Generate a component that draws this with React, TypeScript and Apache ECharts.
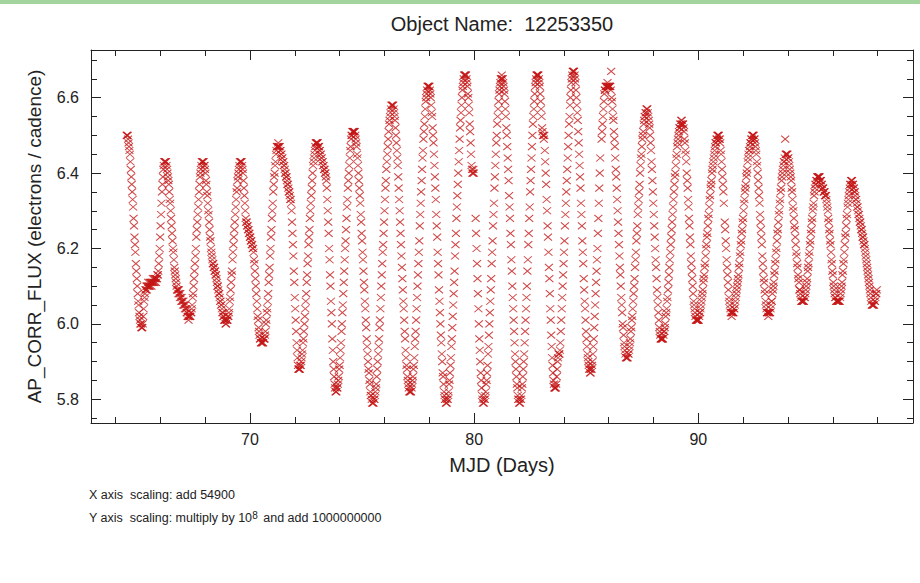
import React, { useEffect, useRef } from 'react';
import * as echarts from 'echarts';

// Kepler long-cadence light curve (one value every 0.02043 d).
// null = missing cadence (visible gaps in the reference).
const START_DAY = 64.5;
const CADENCE_DAYS = 0.02043;

const fluxB01 = [6.50,6.50,6.50,6.49,6.48,6.47,6.46,6.45,6.43,6.41,6.39,6.37,6.35,6.33,6.31,6.28,6.26,6.23,6.21,6.19,6.16,6.14,6.12,6.10,6.08,6.06,6.05,6.03,6.02,6.01,6.00,6.00,5.99];
const fluxB02 = [5.99,5.99,6.00,6.02,6.04,6.06,6.07];
const fluxB03 = [6.08,6.09,6.09,6.10,6.09,6.10,6.10,6.11,6.10,6.10,6.11,6.10,6.11,6.11,6.10,6.11,6.11,6.12,6.11,6.11,6.12,6.11,6.12,6.12,6.11,6.12,6.12,6.13,6.13];
const fluxB04 = [6.14,6.16,6.18,6.20,6.23,6.26,6.29,6.32,6.35,6.37,6.39,6.41,6.42,6.43,6.43];
const fluxB05 = [6.43,6.43,6.43,6.42,6.41,6.40,6.39,6.38,6.37,6.35,6.33,6.32,6.30,6.28,6.26,6.24,6.22,6.20,6.19,6.17,6.15,6.14,6.13,6.12,6.11,6.10,6.09,6.09];
const fluxB06 = [6.09,6.08,6.09,6.08,6.07,6.08,6.07,6.06,6.07,6.06,6.06,6.05,6.06,6.05,6.05,6.04,6.05,6.04,6.04];
const fluxB07 = [6.03,6.03,6.02,6.02,6.01,6.02,6.02];
const fluxB08 = [6.02,6.02,6.03,6.03,6.04,6.05,6.07,6.08,6.10,6.12,6.14,6.16,6.18,6.20,6.23,6.25,6.27,6.29,6.31,6.33,6.35,6.37,6.39,6.40,6.41,6.42,6.43,6.43];
const fluxB09 = [6.43,6.43,6.43,6.42,6.42,6.41,6.40,6.38,6.37,6.35,6.34,6.32,6.30,6.29,6.27,6.25,6.23,6.22,6.20,6.19,6.18];
const fluxB10 = [6.17,6.16,6.16,6.15,6.15,6.14,6.14,6.13,6.13,6.12,6.11];
const fluxB11 = [6.10,6.10,6.09,6.08,6.08,6.07,6.06,6.06,6.05,6.05,6.04,6.03,6.03,6.02,6.02,6.01,6.01,6.01,6.00,6.00];
const fluxB12 = [6.01,6.01,6.01,6.02,6.02,6.03,6.04,6.06,6.07,6.09,6.11,6.13,6.14,6.17,6.19,6.21,6.23,6.25,6.27,6.29,6.31,6.33,6.35,6.36,6.38,6.39,6.40,6.41,6.42,6.43,6.43];
const fluxB13 = [6.43,6.43,6.43,6.42,6.41,6.40,6.38,6.36,6.34,6.32,6.30,6.28];
const fluxB14 = [6.27,6.27,6.26,6.26,6.25,6.25,6.24,6.24,6.23,6.23,6.22,6.22,6.21,6.21,6.20,6.20];
const fluxB15 = [6.19,6.17,6.16,6.14,6.12,6.10,6.08,6.06,6.04,6.02,6.01,5.99,5.98,5.97,5.96,5.96,5.95,5.95,5.95,5.95,5.95];
const fluxB16 = [5.95,5.96,5.96,5.96,5.97,5.98,6.00,6.01,6.03,6.04,6.06,6.08,6.11,6.13,6.15,6.18,6.20,6.23,6.25,6.28,6.30,6.32,6.35,6.37,6.39,6.40,6.42,6.43,6.45,6.46,6.47,6.47,6.47];
const fluxB17 = [6.48,6.47,6.47,6.47,6.46,6.46,6.45,6.45,6.44,6.44,6.43,6.43,6.42,6.42,6.41,6.40,6.40,6.39,6.39,6.38,6.37,6.37,6.36,6.35,6.35,6.34,6.33,6.33,6.32];
const fluxB18 = [6.30,6.27,6.24,6.21,6.18,6.14,6.11,6.07,6.04,6.01,5.98,5.95,5.93,5.91,5.89,5.88,5.88];
const fluxB19 = [5.88,5.88,5.89,5.89,5.90,5.91,5.92,5.93,5.95,5.96,5.98,6.00,6.02,6.04,6.06,6.08,6.11,6.13,6.16,6.18,6.21,6.23,6.25,6.28,6.30,6.32,6.34,6.36,6.38,6.40,6.42,6.43,6.44,6.45,6.46,6.47,6.48,6.48];
const fluxB20 = [6.48,6.48,6.48,6.47,6.47,6.47,6.46,6.46,6.45,6.45,6.44,6.44,6.43,6.43,6.42,6.42,6.41,6.41,6.40,6.40,6.39,6.38];
const fluxB21 = [6.36,6.33,6.30,6.27,6.24,6.20,6.17,6.13,6.10,6.06,6.03,6.00,5.96,5.93,5.90,5.88,5.86,5.84,5.83,5.82];
const fluxB22 = [5.82,5.82,5.83,5.83,5.84,5.85,5.86,5.88,5.89,5.91,5.93,5.95,5.98,6.00,6.03,6.05,6.08,6.11,6.14,6.17,6.20,6.22,6.25,6.28,6.31,6.33,6.36,6.38,6.40,6.42,6.44,6.46,6.47,6.49,6.50,6.50,6.51,6.51];
const fluxB23 = [6.51,6.51,6.51,6.51,6.50,6.49,6.48,6.47,6.45,6.44,6.42,6.40,6.38,6.36,6.34,6.32,6.29,6.27,6.24,6.22,6.19,6.17,6.14,6.11,6.09,6.06,6.04,6.01,5.99,5.96,5.94,5.92,5.90,5.88,5.87,5.85,5.84,5.82,5.81,5.81,5.80,5.79,5.79];
const fluxB24 = [5.79,5.79,5.80,5.80,5.81,5.82,5.83,5.84,5.86,5.88,5.90,5.92,5.94,5.96,5.99,6.01,6.04,6.07,6.10,6.13,6.16,6.19,6.21,6.24,6.27,6.30,6.33,6.36,6.38,6.41,6.43,6.45,6.47,6.49,6.51,6.53,6.54,6.55,6.56,6.57,6.58,6.58];
const fluxB25 = [6.58,6.58,6.58,6.57,6.56,6.55,6.54,6.52,6.50,6.48,6.46,6.44,6.42,6.39,6.36,6.33,6.30,6.27,6.24,6.21,6.18,6.15,6.12,6.09,6.06,6.04,6.01,5.98,5.96,5.93,5.91,5.89,5.88,5.86,5.85,5.84,5.83,5.82,5.82];
const fluxB26 = [5.82,5.82,5.82,5.83,5.84,5.85,5.86,5.88,5.89,5.91,5.94,5.96,5.98,6.01,6.04,6.07,6.10,6.13,6.16,6.19,6.22,6.26,6.29,6.32,6.35,6.38,6.41,6.44,6.46,6.49,6.51,6.53,6.55,6.57,6.59,6.60,6.61,6.62,6.63,6.63];
const fluxB27 = [6.63,6.63,6.63,6.62,6.61,6.60,6.58,6.56,6.55,6.52,6.50,6.48,6.45,6.42,6.39,6.36,6.33,6.29,6.26,6.23,6.19,6.16,6.13,6.09,6.06,6.03,6.00,5.97,5.95,5.92,5.90,5.87,5.86,5.84,5.82,5.81,5.80,5.80,5.79];
const fluxB28 = [5.79,5.79,5.80,5.80,5.81,5.82,5.84,5.85,5.87,5.89,5.91,5.94,5.96,5.99,6.02,6.05,6.08,6.11,6.14,6.18,6.21,6.24,6.28,6.31,6.34,6.37,6.40,6.43,6.46,6.49,6.52,6.54,6.56,6.58,6.60,6.62,6.63,6.64,6.65,6.66,6.66];
const fluxB29 = [6.66,6.66,6.66,6.65,6.64,6.63,6.61,6.60,6.58,6.56,6.53,6.51,6.48,6.45,6.42,6.41,6.40,6.40,6.41,6.40,null,null,null,6.28,6.24,6.20,6.16,6.12,6.08,6.04,6.00,5.96,5.93,5.90,5.87,5.85,5.83,5.81,5.80,5.79];
const fluxB30 = [5.79,5.79,5.80,5.80,5.81,5.82,5.84,5.85,5.87,5.89,5.92,5.94,5.97,6.00,6.03,6.06,6.09,6.12,6.16,6.19,6.22,6.26,6.29,6.32,6.36,6.39,6.42,6.45,6.48,6.50,6.53,6.55,6.57,6.59,6.61,6.62,6.63,6.64,6.65,6.65];
const fluxB31 = [6.66,6.65,6.65,6.64,6.63,6.62,6.61,6.59,6.57,6.55,6.52,6.50,6.47,6.44,6.41,6.38,6.34,6.31,6.28,6.24,6.21,6.17,6.14,6.10,6.07,6.04,6.01,5.98,5.95,5.92,5.90,5.88,5.86,5.84,5.83,5.81,5.80,5.80,5.79];
const fluxB32 = [5.79,5.79,5.80,5.80,5.81,5.83,5.84,5.86,5.88,5.90,5.92,5.95,5.98,6.01,6.04,6.07,6.10,6.14,6.17,6.21,6.24,6.28,6.31,6.35,6.38,6.41,6.44,6.47,6.50,6.53,6.55,6.57,6.59,6.61,6.63,6.64,6.65,6.66,6.66];
const fluxB33 = [6.66,6.66,6.66,6.65,6.64,6.63,6.61,6.59,6.57,6.55,6.52,6.51,6.50,6.50,6.49,6.50,6.46,6.43,6.40,6.37,6.33,6.30,6.26,6.23,6.19,6.15,6.12,6.08,6.04,6.01,5.97,5.94,5.91,5.89,5.87,5.85,5.84,5.83];
const fluxB34 = [5.83,5.83,5.83,5.84,5.86,5.88,5.90,5.91,5.92,5.92,5.92,5.93,5.95,5.98,6.01,6.04,6.07,6.10,6.13,6.16,6.19,6.22,6.26,6.29,6.32,6.35,6.38,6.41,6.44,6.47,6.50,6.53,6.55,6.58,6.60,6.62,6.64,6.65,6.66,6.67];
const fluxB35 = [6.67,6.67,6.67,6.66,6.65,6.64,6.62,6.60,6.58,6.56,6.54,6.51,6.48,6.45,6.42,6.39,6.36,6.32,6.29,6.26,6.22,6.19,6.16,6.12,6.09,6.06,6.04,6.01,5.98,5.96,5.94,5.92,5.91,5.90,5.89,5.88,5.88];
const fluxB36 = [5.87,5.87,5.88,5.88,5.89,5.90,5.92,5.94,5.96,5.99,6.02,6.05,6.08,6.11,6.14,6.17,6.20,6.24,6.28,6.32,6.36,6.40,6.44,null,null,6.49,6.51,6.53,6.55,6.57,6.59,6.61,6.62,6.62,6.63,6.63,6.63,6.63,6.64,6.63,6.63,6.63];
const fluxB37 = [6.63,6.63,6.63,6.62,6.67,6.60,6.59,6.57,6.55,6.54,6.51,6.49,6.47,6.44,6.41,6.39,6.36,6.33,6.30,6.27,6.24,6.21,6.18,6.15,6.13,6.10,6.07,6.05,6.03,6.00,5.99,5.97,5.95,5.94,5.93,5.92,5.91,5.91];
const fluxB38 = [5.91,5.91,5.91,5.92,5.92,5.93,5.94,5.95,5.96,5.98,5.99,6.01,6.02,6.04,6.06,6.08,6.10,6.12,6.15,6.17,6.19,6.22,6.24,6.26,6.29,6.31,6.33,6.35,6.37,6.40,6.42,6.44,6.45,6.47,6.49,6.50,6.51,6.53,6.54,6.55,6.55,6.56,6.56,6.57];
const fluxB39 = [6.57,6.57,6.56,6.55,6.54,6.53,6.52,6.50,6.48,6.46,6.43,6.41,6.38,6.35,6.32,6.29,6.26,6.23,6.20,6.17,6.15,6.12,6.09,6.07,6.05,6.03,6.01,5.99,5.98,5.97,5.96,5.96];
const fluxB40 = [5.96,5.96,5.96,5.96,5.97,5.98,5.98,5.99,6.00,6.02,6.03,6.04,6.06,6.07,6.09,6.11,6.13,6.15,6.17,6.19,6.21,6.23,6.25,6.27,6.29,6.31,6.33,6.35,6.37,6.39,6.40,6.42,6.44,6.45,6.47,6.48,6.49,6.50,6.51,6.52,6.52,6.53,6.53,6.54];
const fluxB41 = [6.54,6.53,6.53,6.53,6.52,6.51,6.49,6.48,6.46,6.45,6.43,6.40,6.38,6.36,6.33,6.31,6.28,6.26,6.23,6.21,6.18,6.16,6.14,6.12,6.10,6.08,6.06,6.05,6.04,6.03,6.02,6.01,6.01];
const fluxB42 = [6.01,6.01,6.01,6.01,6.01,6.02,6.03,6.03,6.04,6.05,6.06,6.07,6.08,6.09,6.11,6.12,6.13,6.15,6.16,6.18,6.20,6.21,6.23,6.24,6.26,6.28,6.29,6.31,6.33,6.34,6.36,6.37,6.38,6.40,6.41,6.42,6.43,6.44,6.45,6.46,6.47,6.48,6.48,6.49,6.49,6.50,6.50];
const fluxB43 = [6.50,6.50,6.49,6.49,6.48,6.46,6.45,6.43,6.41,6.39,6.37,6.35,6.32,null,6.27,6.25,6.22,6.20,6.17,6.15,6.13,6.11,6.09,6.07,6.06,6.05,6.04,6.03,6.03];
const fluxB44 = [6.02,6.03,6.03,6.03,6.03,6.04,6.04,6.05,6.06,6.07,6.08,6.09,6.10,6.11,6.12,6.13,6.15,6.16,6.18,6.19,6.21,6.22,6.24,6.25,6.27,6.28,6.30,6.32,6.33,6.35,6.36,6.37,6.39,6.40,6.41,6.43,6.44,6.45,6.46,6.46,6.47,6.48,6.48,6.49,6.49,6.50,6.50];
const fluxB45 = [6.50,6.50,6.49,6.49,6.48,6.47,6.46,6.45,6.43,6.42,6.40,6.38,6.36,6.34,6.32,6.29,6.27,6.25,6.23,6.21,6.18,6.16,6.14,6.12,6.11,6.09,6.08,6.06,6.05,6.04,6.03,6.03,6.03];
const fluxB46 = [6.02,6.03,6.03,6.03,6.03,6.04,6.05,6.06,6.06,6.08,6.09,6.10,6.11,6.13,6.14,6.16,6.17,6.19,6.20,6.22,6.24,6.25,6.27,6.29,6.30,6.32,6.33,6.35,6.36,6.38,6.39,6.40,6.41,6.42,6.43,6.43,6.44,6.49,6.45,6.45];
const fluxB47 = [6.45,6.45,6.45,6.44,6.44,6.43,6.42,6.41,6.40,6.39,6.38,6.36,6.35,6.33,6.31,6.30,6.28,6.26,6.25,6.23,6.21,6.19,6.18,6.16,6.15,6.13,6.12,6.11,6.09,6.09,6.08,6.07,6.06,6.06,6.06];
const fluxB48 = [6.06,6.06,6.06,6.06,6.07,6.07,6.08,6.09,6.10,6.11,6.12,6.14,6.15,6.16,6.18,6.19,6.21,6.22,6.24,6.25,6.27,6.28,6.30,6.31,6.32,6.34,6.35,6.36,6.37,6.37,6.38,6.38,6.39,6.39];
const fluxB49 = [6.39,6.39,6.39,6.39,6.38,6.38,6.38,6.37,6.37,6.36,6.36,6.36,6.35,6.35,6.35,6.34,6.34,6.34,6.33,6.32,6.31,6.30,6.28,6.27,6.25,6.24,6.22,6.21,6.19,6.17,6.16,6.14,6.13,6.11,6.10,6.09,6.08,6.07,6.07,6.06,6.06,6.06,6.06,6.06];
const fluxB50 = [6.06,6.06,6.06,6.06,6.07,6.08,6.09,6.10,6.11,6.13,6.14,6.16,6.17,6.19,6.21,6.23,6.24,6.26,6.28,6.29,6.31,6.32,6.33,6.34,6.35,6.36,6.37,6.37,6.38];
const fluxB51 = [6.38,6.38,6.37,6.37,6.36,6.36,6.35,6.35,6.34,6.33,6.33,6.32,6.31,6.31,6.30,6.29,6.29,6.28,6.27,6.27,6.26,6.25,6.25,6.24,6.23,6.23,6.22,6.21,6.21,6.20,6.19,6.18,6.17,6.16,6.15,6.14,6.13,6.12,6.11,6.10,6.09,6.08,6.07,6.06,6.05,6.05,6.05];
const fluxB52 = [6.05,6.05,6.05,6.06,6.06,6.07,6.08,6.08,6.09];

const fluxRuns: (number | null)[][] = [
  fluxB01, fluxB02, fluxB03, fluxB04, fluxB05, fluxB06, fluxB07, fluxB08, fluxB09, fluxB10,
  fluxB11, fluxB12, fluxB13, fluxB14, fluxB15, fluxB16, fluxB17, fluxB18, fluxB19, fluxB20,
  fluxB21, fluxB22, fluxB23, fluxB24, fluxB25, fluxB26, fluxB27, fluxB28, fluxB29, fluxB30,
  fluxB31, fluxB32, fluxB33, fluxB34, fluxB35, fluxB36, fluxB37, fluxB38, fluxB39, fluxB40,
  fluxB41, fluxB42, fluxB43, fluxB44, fluxB45, fluxB46, fluxB47, fluxB48, fluxB49, fluxB50,
  fluxB51, fluxB52,
];

const xMajorTicks = [70, 80, 90];
const xMinorTicks = [64, 66, 68, 72, 74, 76, 78, 82, 84, 86, 88, 92, 94, 96, 98];
const yMajorTicks = [5.8, 6.0, 6.2, 6.4, 6.6];
const yMinorTicks = [5.75, 5.85, 5.9, 5.95, 6.05, 6.1, 6.15, 6.25, 6.3, 6.35, 6.45, 6.5, 6.55, 6.65, 6.7];

const X_MIN = 62.907;
const X_MAX = 99.58;
const Y_MIN = 5.737;
const Y_MAX = 6.7265;

const FONT = '"Liberation Sans", Arial, Helvetica, sans-serif';
const INK = '#222';

function buildPoints(): number[][] {
  const pts: number[][] = [];
  let i = 0;
  for (const run of fluxRuns) {
    for (const v of run) {
      if (v !== null) pts.push([START_DAY + i * CADENCE_DAYS, v]);
      i++;
    }
  }
  return pts;
}

function xAxisDef(position: 'bottom' | 'top', major: boolean, main: boolean): any {
  return {
    type: 'value',
    position,
    min: X_MIN,
    max: X_MAX,
    gridIndex: 0,
    axisLine: { show: major, onZero: false, lineStyle: { color: INK, width: 1 } },
    axisTick: {
      show: true,
      inside: true,
      length: major ? 10 : 6,
      customValues: major ? xMajorTicks : xMinorTicks,
      lineStyle: { color: INK, width: 1 },
    },
    axisLabel: main
      ? { show: true, customValues: xMajorTicks, margin: 8, color: INK, fontSize: 16, fontFamily: FONT, formatter: (v: number) => String(Math.round(v)) }
      : { show: false },
    splitLine: { show: false },
    name: main ? 'MJD (Days)' : '',
    nameLocation: 'middle',
    nameGap: 32,
    nameTextStyle: { color: INK, fontSize: 20, fontFamily: FONT },
  };
}

function yAxisDef(position: 'left' | 'right', major: boolean, main: boolean): any {
  return {
    type: 'value',
    position,
    min: Y_MIN,
    max: Y_MAX,
    gridIndex: 0,
    axisLine: { show: major, onZero: false, lineStyle: { color: INK, width: 1 } },
    axisTick: {
      show: true,
      inside: true,
      length: major ? 10 : 6,
      customValues: major ? yMajorTicks : yMinorTicks,
      lineStyle: { color: INK, width: 1 },
    },
    axisLabel: main
      ? { show: true, customValues: yMajorTicks, margin: 12, color: INK, fontSize: 16, fontFamily: FONT, formatter: (v: number) => v.toFixed(1) }
      : { show: false },
    splitLine: { show: false },
    name: main ? 'AP_CORR_FLUX (electrons / cadence)' : '',
    nameLocation: 'middle',
    nameGap: 47,
    nameTextStyle: { color: INK, fontSize: 19, fontFamily: FONT },
  };
}

export default function App() {
  const ref = useRef<HTMLDivElement>(null);

  useEffect(() => {
    if (!ref.current) return;
    const chart = echarts.init(ref.current, null, { renderer: 'svg' });
    const option: any = {
      animation: false,
      backgroundColor: '#ffffff',
      grid: { left: 91, top: 50, width: 822, height: 373, containLabel: false, outerBoundsMode: 'none' },
      xAxis: [
        xAxisDef('bottom', true, true),
        xAxisDef('bottom', false, false),
        xAxisDef('top', true, false),
        xAxisDef('top', false, false),
      ],
      yAxis: [
        yAxisDef('left', true, true),
        yAxisDef('left', false, false),
        yAxisDef('right', true, false),
        yAxisDef('right', false, false),
      ],
      graphic: [
        { type: 'rect', shape: { x: 0, y: 0, width: 920, height: 4 }, style: { fill: '#a3d49e' } },
        {
          type: 'text',
          x: 502,
          y: 24,
          style: { text: 'Object Name:  12253350', fontSize: 20, fontFamily: FONT, fill: INK, align: 'center', verticalAlign: 'middle' },
        },
        {
          type: 'text',
          x: 89,
          y: 495,
          style: { text: 'X axis  scaling: add 54900', fontSize: 12.5, fontFamily: FONT, fill: INK, align: 'left', verticalAlign: 'middle' },
        },
        {
          type: 'text',
          x: 89,
          y: 517,
          style: {
            text: '{a|Y axis  scaling: multiply by 10}{s|8}{a| and add 1000000000}',
            fontFamily: FONT,
            fill: INK,
            align: 'left',
            verticalAlign: 'middle',
            rich: {
              a: { fontSize: 12.5, fontFamily: FONT, fill: INK, lineHeight: 14, verticalAlign: 'bottom' },
              s: { fontSize: 10, fontFamily: FONT, fill: INK, lineHeight: 11, padding: [0, 2, 7, 0], verticalAlign: 'top' },
            },
          },
        },
      ],
      series: [
        {
          type: 'scatter',
          xAxisIndex: 0,
          yAxisIndex: 0,
          data: buildPoints(),
          symbol: 'path://M0,0L10,10M10,0L0,10',
          symbolSize: [8, 7],
          silent: true,
          itemStyle: { color: 'rgba(0,0,0,0)', borderColor: '#c41616', borderWidth: 1 },
          emphasis: { disabled: true },
        },
      ],
    };
    chart.setOption(option);
    return () => chart.dispose();
  }, []);

  return (
    <div
      ref={ref}
      style={{ position: 'fixed', left: 0, top: 0, width: 920, height: 583, background: '#fff' }}
    />
  );
}
